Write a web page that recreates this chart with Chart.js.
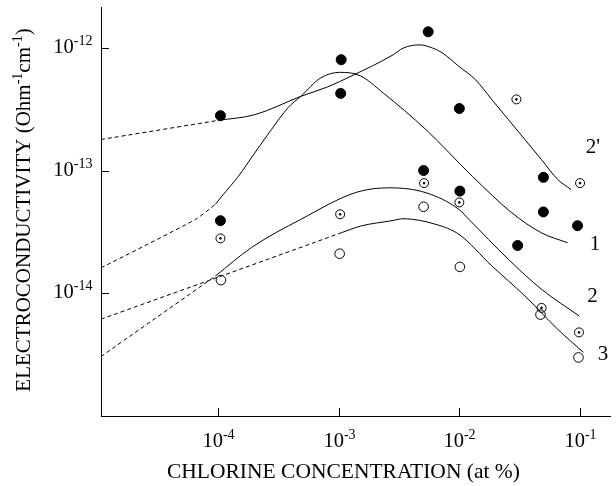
<!DOCTYPE html>
<html>
<head>
<meta charset="utf-8">
<title>Electroconductivity vs chlorine concentration</title>
<script src="https://cdn.jsdelivr.net/npm/chart.js@4.4.1/dist/chart.umd.min.js"></script>
<style>
	html, body { margin: 0; padding: 0; background: #fff; }
	#wrap { width: 616px; height: 486px; }
</style>
</head>
<body>
<div id="wrap"><canvas id="chart" width="616" height="486"></canvas></div>
<script>
// Axis ticks (decades) and their exponent labels
const xTickValues = [1e-4, 1e-3, 1e-2, 1e-1];
const xTickExponents = ["-4", "-3", "-2", "-1"];
const yTickValues = [1e-14, 1e-13, 1e-12];
const yTickExponents = ["-14", "-13", "-12"];

// Measured points: filled circles
const filledX = [1.05e-4, 1.05e-4, 1.05e-3, 1.04e-3, 5.52e-3, 1.0e-2, 5.06e-3, 1.01e-2, 0.0497, 0.0497, 0.0953, 0.0304];
const filledY = [2.8e-13, 3.9e-14, 8.0e-13, 4.25e-13, 1.35e-12, 3.2e-13, 1.0e-13, 6.8e-14, 8.8e-14, 4.6e-14, 3.55e-14, 2.45e-14];

// Measured points: dotted circles
const dottedX = [1.05e-4, 1.03e-3, 0.0297, 5.1e-3, 1.0e-2, 0.1, 0.048, 0.098];
const dottedY = [2.8e-14, 4.4e-14, 3.8e-13, 7.9e-14, 5.5e-14, 7.9e-14, 7.6e-15, 4.8e-15];

// Measured points: open circles
const openX = [1.06e-4, 1.02e-3, 5.06e-3, 1.01e-2, 0.047, 0.097];
const openY = [1.28e-14, 2.1e-14, 5.07e-14, 1.64e-14, 6.7e-15, 3.0e-15];

// Curve 2'
const curve2pDashX = [1.076e-5, 1e-4];
const curve2pDashY = [1.79e-13, 2.56e-13];
const curve2pX = [1e-4, 2.02e-4, 4.86e-4, 8.05e-4, 1.29e-3, 2.83e-3, 3.43e-3, 4.67e-3, 6.01e-3, 7.26e-3, 9.93e-3, 1.36e-2, 1.86e-2, 2.55e-2, 3.49e-2, 4.78e-2, 6.53e-2, 8.41e-2];
const curve2pY = [2.56e-13, 2.85e-13, 4.02e-13, 4.79e-13, 5.92e-13, 8.77e-13, 9.95e-13, 1.057e-12, 9.95e-13, 9.06e-13, 7.05e-13, 5.5e-13, 3.78e-13, 2.6e-13, 1.79e-13, 1.23e-13, 8.45e-14, 7.01e-14];

// Curve 1
const curve1DashX = [1.076e-5, 6.53e-5, 9.53e-5];
const curve1DashY = [1.61e-14, 4.0e-14, 5.3e-14];
const curve1X = [9.53e-5, 1.08e-4, 1.48e-4, 2.02e-4, 2.77e-4, 3.8e-4, 4.86e-4, 7.1e-4, 1.04e-3, 1.51e-3, 2.34e-3, 5.3e-3, 1.28e-2, 2.72e-2, 4.78e-2, 7.89e-2];
const curve1Y = [5.3e-14, 6.18e-14, 8.99e-14, 1.39e-13, 2.15e-13, 3.24e-13, 4.02e-13, 5.68e-13, 6.31e-13, 5.92e-13, 4.29e-13, 2.15e-13, 8.99e-14, 4.53e-14, 3.11e-14, 2.58e-14];

// Curve 2
const curve2DashX = [1.076e-5, 9.53e-5];
const curve2DashY = [3.05e-15, 1.38e-14];
const curve2X = [9.53e-5, 1.9e-4, 4.86e-4, 1.42e-3, 2.65e-3, 5.3e-3, 9.93e-3, 1.2e-2, 2.55e-2, 4.78e-2, 9.84e-2];
const curve2Y = [1.38e-14, 2.36e-14, 4.0e-14, 6.67e-14, 7.23e-14, 6.59e-14, 4.82e-14, 4.0e-14, 1.89e-14, 1.08e-14, 6.53e-15];

// Curve 3
const curve3DashX = [1.076e-5, 1e-4, 1.07e-3];
const curve3DashY = [6.15e-15, 1.35e-14, 3.13e-14];
const curve3X = [1.07e-3, 1.51e-3, 2.83e-3, 3.42e-3, 6.4e-3, 9.93e-3, 1.86e-2, 3.49e-2, 6.53e-2, 0.1067];
const curve3Y = [3.13e-14, 3.52e-14, 3.92e-14, 4.05e-14, 3.64e-14, 3.02e-14, 1.67e-14, 9.51e-15, 5.09e-15, 3.3e-15];

// Curve labels
const curveLabels = ["2'", "1", "2", "3"];
const curveLabelX = [0.128, 0.133, 0.127, 0.155];
const curveLabelY = [1.55e-13, 2.52e-14, 9.5e-15, 3.19e-15];

const SERIF = '"Liberation Serif", "Times New Roman", serif';

function toPoints(xs, ys) {
	return xs.map(function (x, i) {
		return { x: x, y: ys[i] };
	});
}

function curveDataset(xs, ys, dashed) {
	return {
		data: toPoints(xs, ys),
		showLine: true,
		pointRadius: 0,
		pointHoverRadius: 0,
		borderColor: "#000",
		borderWidth: 1,
		borderDash: dashed ? [4, 3] : [],
		cubicInterpolationMode: dashed ? "default" : "monotone",
		tension: dashed ? 0.2 : 0.4,
		fill: false,
	};
}

function markerDataset(xs, ys, radius, filled) {
	return {
		data: toPoints(xs, ys),
		showLine: false,
		pointStyle: "circle",
		pointRadius: radius,
		pointHoverRadius: radius,
		borderColor: "#000",
		borderWidth: 1,
		backgroundColor: filled ? "#000" : "rgba(0,0,0,0)",
	};
}

/**
 * Draw "10" with a raised exponent
 */
function drawPower(ctx, exp, x, y, align) {
	ctx.font = "20.5px " + SERIF;
	const wBase = ctx.measureText("10").width;
	ctx.font = "14px " + SERIF;
	const wExp = ctx.measureText(exp).width;
	let start = x;
	if (align === "center") start = x - (wBase + wExp) / 2;
	if (align === "right") start = x - (wBase + wExp);
	ctx.textAlign = "left";
	ctx.textBaseline = "alphabetic";
	ctx.font = "20.5px " + SERIF;
	ctx.fillText("10", start, y);
	ctx.font = "14px " + SERIF;
	ctx.fillText(exp, start + wBase, y - 8);
}

// Inward ticks, power-of-ten labels, axis titles and curve labels
const decorPlugin = {
	id: "decor",
	afterDraw: function (chart) {
		const ctx = chart.ctx;
		const xs = chart.scales.x;
		const ys = chart.scales.y;
		const area = chart.chartArea;
		ctx.save();
		ctx.strokeStyle = "#000";
		ctx.fillStyle = "#000";
		ctx.lineWidth = 1;

		xTickValues.forEach(function (v, i) {
			const px = Math.round(xs.getPixelForValue(v)) + 0.5;
			ctx.beginPath();
			ctx.moveTo(px, area.bottom);
			ctx.lineTo(px, area.bottom - 8);
			ctx.stroke();
			drawPower(ctx, xTickExponents[i], px, 447, "center");
		});

		yTickValues.forEach(function (v, i) {
			const py = Math.round(ys.getPixelForValue(v)) + 0.5;
			ctx.beginPath();
			ctx.moveTo(area.left, py);
			ctx.lineTo(area.left + 8, py);
			ctx.stroke();
			drawPower(ctx, yTickExponents[i], 92.5, py + 4.5, "right");
		});

		// x axis title
		ctx.font = "21.5px " + SERIF;
		ctx.textAlign = "left";
		ctx.textBaseline = "alphabetic";
		ctx.fillText("CHLORINE CONCENTRATION (at %)", 167, 478);

		// y axis title, rotated, with superscripts
		const parts = [
			["ELECTROCONDUCTIVITY (Ohm", 21, 0],
			["-1", 14, 8],
			["cm", 21, 0],
			["-1", 14, 8],
			[")", 21, 0],
		];
		let total = 0;
		parts.forEach(function (p) {
			ctx.font = p[1] + "px " + SERIF;
			p.push(ctx.measureText(p[0]).width);
			total += p[3];
		});
		ctx.save();
		ctx.translate(30, 210);
		ctx.rotate(-Math.PI / 2);
		let pos = -total / 2;
		parts.forEach(function (p) {
			ctx.font = p[1] + "px " + SERIF;
			ctx.fillText(p[0], pos, -p[2]);
			pos += p[3];
		});
		ctx.restore();

		// curve labels
		ctx.font = "21px " + SERIF;
		ctx.textAlign = "center";
		ctx.textBaseline = "middle";
		curveLabels.forEach(function (t, i) {
			ctx.fillText(t, xs.getPixelForValue(curveLabelX[i]), ys.getPixelForValue(curveLabelY[i]));
		});
		ctx.restore();
	},
};

new Chart(document.getElementById("chart"), {
	type: "scatter",
	data: {
		datasets: [
			curveDataset(curve2pDashX, curve2pDashY, true),
			curveDataset(curve2pX, curve2pY, false),
			curveDataset(curve1DashX, curve1DashY, true),
			curveDataset(curve1X, curve1Y, false),
			curveDataset(curve2DashX, curve2DashY, true),
			curveDataset(curve2X, curve2Y, false),
			curveDataset(curve3DashX, curve3DashY, true),
			curveDataset(curve3X, curve3Y, false),
			markerDataset(filledX, filledY, 5, true),
			markerDataset(dottedX, dottedY, 4.5, false),
			markerDataset(dottedX, dottedY, 0.9, true),
			markerDataset(openX, openY, 4.8, false),
		],
	},
	options: {
		responsive: false,
		animation: false,
		devicePixelRatio: 1,
		layout: {
			padding: { top: 7, right: 0, left: 0, bottom: 0 },
		},
		plugins: {
			legend: { display: false },
			tooltip: { enabled: false },
		},
		scales: {
			x: {
				type: "logarithmic",
				min: 1.076e-5,
				max: 0.177,
				grid: { display: false },
				border: { display: true, color: "#000", width: 1 },
				ticks: { display: false },
				afterFit: function (scale) {
					scale.height = 70;
				},
			},
			y: {
				type: "logarithmic",
				min: 1e-15,
				max: 2.15e-12,
				grid: { display: false },
				border: { display: true, color: "#000", width: 1 },
				ticks: { display: false },
				afterFit: function (scale) {
					scale.width = 101;
				},
			},
		},
	},
	plugins: [decorPlugin],
});
</script>
</body>
</html>
